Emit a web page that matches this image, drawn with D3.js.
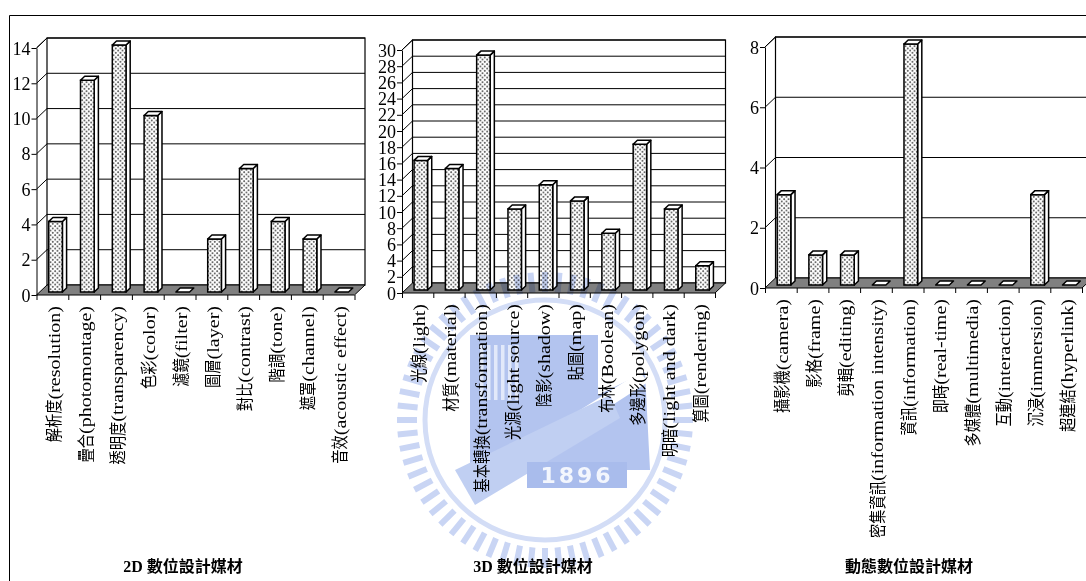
<!DOCTYPE html>
<html>
<head>
<meta charset="utf-8">
<script src="https://cdn.jsdelivr.net/npm/d3@7"></script>
<style>
  html, body { margin: 0; padding: 0; background: #fff; }
  svg { display: block; }
</style>
</head>
<body>
<svg id="chart" width="1086" height="581"></svg>
<script>
// Categories and counts for the three groups of digital design media
const cats2D = ["解析度(resolution)", "疊合(photomontage)", "透明度(transparency)", "色彩(color)", "濾鏡(filter)",
                "圖層(layer)", "對比(contrast)", "階調(tone)", "遮罩(channel)", "音效(acoustic effect)"];
const vals2D = [4, 12, 14, 10, 0, 3, 7, 4, 3, 0];
const ticks2D = [0, 2, 4, 6, 8, 10, 12, 14];

const cats3D = ["光線(light)", "材質(material)", "基本轉換(transformation)", "光源(light source)", "陰影(shadow)",
                "貼圖(map)", "布林(Boolean)", "多邊形(polygon)", "明暗(light and dark)", "算圖(rendering)"];
const vals3D = [16, 15, 29, 10, 13, 11, 7, 18, 10, 3];
const ticks3D = [0, 2, 4, 6, 8, 10, 12, 14, 16, 18, 20, 22, 24, 26, 28, 30];

const catsDyn = ["攝影機(camera)", "影格(frame)", "剪輯(editing)", "密集資訊(information intensity)", "資訊(information)",
                 "即時(real-time)", "多媒體(multimedia)", "互動(interaction)", "沉浸(immersion)", "超連結(hyperlink)"];
const valsDyn = [3, 1, 1, 0, 8, 0, 0, 0, 3, 0];
const ticksDyn = [0, 2, 4, 6, 8];

const titles = ["2D 數位設計媒材", "3D 數位設計媒材", "動態數位設計媒材"];

// Layout of each pseudo-3D panel: front-left corner of the floor, plot width, top pixel of the value axis
const panels = [
  { cats: cats2D,  vals: vals2D,  ticks: ticks2D,  title: titles[0], x0: 36.5, w: 318, y0: 295, yTop: 48, titleX: 183 },
  { cats: cats3D,  vals: vals3D,  ticks: ticks3D,  title: titles[1], x0: 402,  w: 313, y0: 293, yTop: 50, titleX: 533 },
  { cats: catsDyn, vals: valsDyn, ticks: ticksDyn, title: titles[2], x0: 765,  w: 317, y0: 288, yTop: 47, titleX: 909 }
];

const depth = { dx: 10.5, dy: -10 };      // floor depth vector
const barFront = 0.3, barBack = 0.7;       // bar position inside the depth
const latinFont = "'Liberation Serif', 'Times New Roman', serif";
const cjkFont = "'Noto Sans CJK TC', 'Noto Sans CJK SC', sans-serif";

const svg = d3.select("#chart");

const defs = svg.append("defs");
const pat = defs.append("pattern").attr("id", "dots")
  .attr("patternUnits", "userSpaceOnUse").attr("width", 4.5).attr("height", 4.5);
pat.append("rect").attr("width", 4.5).attr("height", 4.5).attr("fill", "#fff");
pat.append("circle").attr("cx", 1.1).attr("cy", 1.1).attr("r", 0.85).attr("fill", "#333");
pat.append("circle").attr("cx", 3.35).attr("cy", 3.35).attr("r", 0.85).attr("fill", "#333");

const line = d3.line();

function drawPanel(p) {
  const g = svg.append("g");
  const y = d3.scaleLinear().domain([0, d3.max(p.ticks)]).range([p.y0, p.yTop]);
  const x = d3.scaleBand().domain(p.cats).range([p.x0, p.x0 + p.w]).padding(0);
  const idx = d3.scaleLinear().domain([0, p.cats.length]).range([p.x0, p.x0 + p.w]);
  const { dx, dy } = depth;
  const yMax = d3.max(p.ticks);

  // back wall with horizontal gridlines
  g.append("rect")
    .attr("x", p.x0 + dx).attr("y", y(yMax) + dy)
    .attr("width", p.w).attr("height", p.y0 - y(yMax))
    .attr("fill", "#fff").attr("stroke", "#000").attr("stroke-width", 1.2);
  g.selectAll(".grid").data(p.ticks.filter(t => t > 0)).join("path")
    .attr("d", t => line([[p.x0, y(t)], [p.x0 + dx, y(t) + dy], [p.x0 + p.w + dx, y(t) + dy]]))
    .attr("fill", "none").attr("stroke", "#000").attr("stroke-width", 1);

  // floor
  g.append("path")
    .attr("d", line([[p.x0, p.y0], [p.x0 + p.w, p.y0], [p.x0 + p.w + dx, p.y0 + dy], [p.x0 + dx, p.y0 + dy]]) + "Z")
    .attr("fill", "#808080").attr("stroke", "#000").attr("stroke-width", 1);

  // bars: front face, right side and top
  const f = { x: dx * barFront, y: dy * barFront };
  const b = { x: dx * (barBack - barFront), y: dy * (barBack - barFront) };
  const bw = x.bandwidth() * 0.43;
  const bars = g.selectAll(".bar").data(p.cats.map((c, i) => ({ c, v: p.vals[i] }))).join("g");
  bars.each(function (d) {
    const gb = d3.select(this);
    const cx = x(d.c) + x.bandwidth() / 2 + f.x;
    const xl = cx - bw / 2, xr = cx + bw / 2;
    const yb = p.y0 + f.y, yt = y(d.v) + f.y;
    if (d.v > 0) {
      gb.append("path")
        .attr("d", line([[xr, yb], [xr + b.x, yb + b.y], [xr + b.x, yt + b.y], [xr, yt]]) + "Z")
        .attr("fill", "#fff").attr("stroke", "#000").attr("stroke-width", 1.5).attr("stroke-linejoin", "round");
      gb.append("rect").attr("x", xl).attr("y", yt).attr("width", bw).attr("height", yb - yt)
        .attr("fill", "url(#dots)").attr("stroke", "#000").attr("stroke-width", 1.5);
    }
    gb.append("path")
      .attr("d", line([[xl, yt], [xr, yt], [xr + b.x, yt + b.y], [xl + b.x, yt + b.y]]) + "Z")
      .attr("fill", "#fff").attr("stroke", "#000").attr("stroke-width", 1.5).attr("stroke-linejoin", "round");
  });

  // value axis on the front-left edge
  const ay = g.append("g").attr("transform", `translate(${p.x0},0)`)
    .call(d3.axisLeft(y).tickValues(p.ticks).tickSize(5).tickSizeOuter(0).tickPadding(1).tickFormat(d3.format("d")));
  ay.select(".domain").attr("stroke", "#000");
  ay.selectAll("line").attr("stroke", "#000");
  ay.selectAll("text").attr("font-family", latinFont).attr("font-size", 18).attr("fill", "#000").attr("dy", "0.34em");
  // top edge of the side wall
  g.append("path").attr("d", line([[p.x0, y(yMax)], [p.x0 + dx, y(yMax) + dy]])).attr("stroke", "#000");

  // category axis along the front edge of the floor
  const ax = g.append("g").attr("transform", `translate(0,${p.y0})`)
    .call(d3.axisBottom(idx).tickValues(d3.range(p.cats.length + 1)).tickSize(5).tickSizeOuter(0).tickFormat(""));
  ax.select(".domain").remove();
  ax.selectAll("line").attr("stroke", "#000");

  // rotated category labels: CJK name followed by the English term
  p.cats.forEach(c => {
    const k = c.indexOf("(");
    const cjk = c.slice(0, k), lat = c.slice(k);
    const lg = g.append("g")
      .attr("transform", `translate(${x(c) + x.bandwidth() / 2 + 1.5},${p.y0 + 11}) rotate(-90)`);
    const sL = 1.18, sC = 0.84;
    const tl = lg.append("text").text(lat)
      .attr("font-family", latinFont).attr("font-size", 17).attr("text-anchor", "end")
      .attr("dy", "0.33em").attr("transform", `scale(${sL},1)`);
    const wl = tl.node().getComputedTextLength() * sL;
    lg.append("text").text(cjk)
      .attr("font-family", cjkFont).attr("font-size", 17).attr("text-anchor", "end")
      .attr("x", -wl / sC).attr("dy", "0.36em").attr("transform", `scale(${sC},1)`);
  });

  // panel title
  g.append("text").text(p.title)
    .attr("x", p.titleX).attr("y", 572)
    .attr("text-anchor", "middle").attr("font-weight", "bold")
    .attr("font-family", `${latinFont.split(",")[0]}, ${cjkFont}`).attr("font-size", 16);
}

panels.forEach(drawPanel);

// faint institutional seal printed across the middle panel
const wm = svg.append("g").style("mix-blend-mode", "multiply");
const cxW = 545, cyW = 420;
d3.range(64).forEach(i => {
  const a = i / 64 * 360;
  wm.append("rect")
    .attr("x", 128).attr("y", -3).attr("width", 20).attr("height", 6)
    .attr("fill", "#c9d5f4")
    .attr("transform", `translate(${cxW},${cyW}) rotate(${a})`);
});
wm.append("circle").attr("cx", cxW).attr("cy", cyW).attr("r", 120)
  .attr("fill", "none").attr("stroke", "#d3ddf6").attr("stroke-width", 5);
wm.append("path")
  .attr("d", line([[470, 335], [598, 335], [598, 395], [645, 372], [650, 470], [470, 470]]) + "Z")
  .attr("fill", "#b3c4ef");
// vertical slits of the building facade
d3.range(6).forEach(i => {
  wm.append("rect").attr("x", 480 + i * 7).attr("y", 345).attr("width", 3.5).attr("height", 55)
    .attr("fill", "#e2e9fa");
});
wm.append("path")
  .attr("d", line([[470, 480], [640, 372], [648, 382], [478, 492]]) + "Z")
  .attr("fill", "#ffffff");
wm.append("path")
  .attr("d", line([[455, 470], [475, 505], [620, 418], [610, 395]]) + "Z")
  .attr("fill", "#c0cff2");
wm.append("rect").attr("x", 527).attr("y", 462).attr("width", 100).attr("height", 26)
  .attr("fill", "#a9bcec");
wm.append("text").text("1896").attr("x", 577).attr("y", 483)
  .attr("text-anchor", "middle").attr("font-family", "'DejaVu Sans', sans-serif")
  .attr("font-weight", "bold").attr("font-size", 22).attr("fill", "#f3f6fd").attr("letter-spacing", 3);

// outer frame
svg.append("path").attr("d", line([[9.5, 581], [9.5, 15.5], [1086, 15.5]]))
  .attr("fill", "none").attr("stroke", "#000").attr("stroke-width", 1);
</script>
</body>
</html>
